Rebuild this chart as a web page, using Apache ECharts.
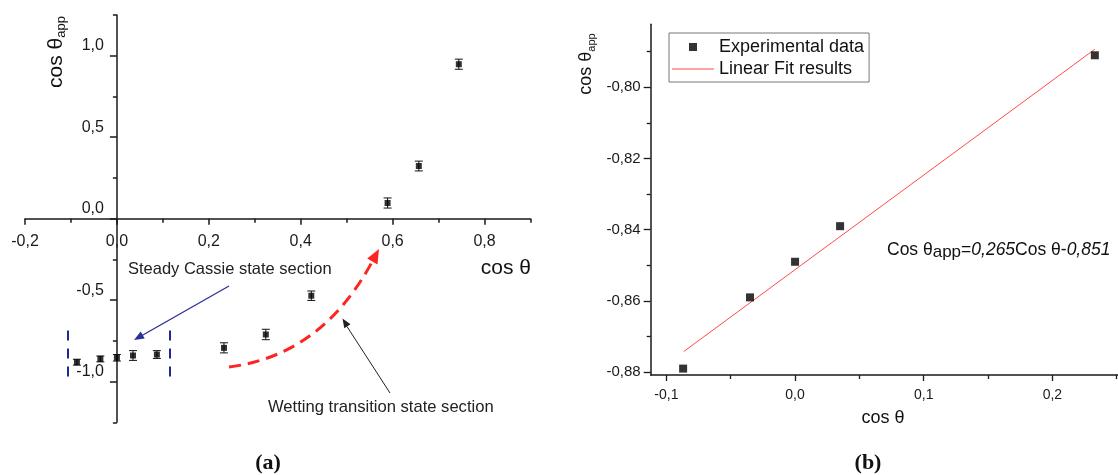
<!DOCTYPE html>
<html>
<head>
<meta charset="utf-8">
<script src="https://cdn.jsdelivr.net/npm/echarts@6/dist/echarts.min.js"></script>
<style>
html,body{margin:0;padding:0;background:#fff;}
#c{width:1118px;height:475px;}
</style>
</head>
<body>
<div id="c"></div>
<script>
// ---- Panel (a) data ----
const leftX   = [-0.087, -0.036, 0.0, 0.035, 0.087, 0.233, 0.324, 0.423, 0.589, 0.657, 0.744];
const leftY   = [-0.881, -0.861, -0.854, -0.840, -0.834, -0.793, -0.711, -0.473, 0.096, 0.323, 0.948];
const leftErr = [0.018, 0.018, 0.020, 0.030, 0.024, 0.031, 0.032, 0.029, 0.031, 0.030, 0.031];
// ---- Panel (b) data ----
const rightX = [-0.087, -0.035, 0.0, 0.035, 0.233];
const rightY = [-0.879, -0.859, -0.849, -0.839, -0.791];
const fitX = [-0.0865, 0.233];
const fitY = [-0.8742, -0.7893];
// ---- Tick values ----
const leftXMajor  = [-0.2, 0, 0.2, 0.4, 0.6, 0.8];
const leftXMinor  = [-0.1, 0.1, 0.3, 0.5, 0.7, 0.9];
const leftYMajor  = [-1, -0.5, 0, 0.5, 1];
const leftYMinor  = [-1.25, -0.75, -0.25, 0.25, 0.75, 1.25];
const rightXMajor = [-0.1, 0, 0.1, 0.2];
const rightXMinor = [-0.05, 0.05, 0.15, 0.25];
const rightYMajor = [-0.88, -0.86, -0.84, -0.82, -0.80];
const rightYMinor = [-0.87, -0.85, -0.83, -0.81, -0.79];
// ---- Bracket (Cassie section) in data coordinates ----
const bracketX = [-0.107, 0.116];
const bracketY = [-0.687, -0.975];

const FONT = "'Liberation Sans', Arial, sans-serif";
const AX = '#1a1a1a';
const comma = (v, d) => v.toFixed(d).replace('.', ',');

const leftPts = leftX.map((x, i) => [x, leftY[i]]);
const leftErrPts = leftX.map((x, i) => [x, leftY[i], leftErr[i]]);
const rightPts = rightX.map((x, i) => [x, rightY[i]]);
const fitPts = fitX.map((x, i) => [x, fitY[i]]);

// layout of panel (a); axes cross at the origin
const W = 1118, H = 475;
const LG = {left: 25, right: 587.5, top: 15, bottom: 52.7};
const LXR = [-0.2, 0.9], LYR = [-1.25, 1.25];
const lgW = W - LG.left - LG.right, lgH = H - LG.top - LG.bottom;
const yAxisShift = -((0 - LXR[0]) / (LXR[1] - LXR[0])) * lgW;   // move y axis to x=0
const xAxisShift = -((0 - LYR[0]) / (LYR[1] - LYR[0])) * lgH;   // move x axis to y=0

const chart = echarts.init(document.getElementById('c'), null, {renderer: 'canvas'});

const option = {
  animation: false,
  backgroundColor: '#fff',
  grid: [
    Object.assign({outerBoundsMode: 'none', containLabel: false}, LG),
    {left: 650.7, right: 0, top: 24.3, bottom: 100, outerBoundsMode: 'none', containLabel: false}
  ],
  xAxis: [
    { // left major
      type: 'value', gridIndex: 0, min: LXR[0], max: LXR[1], position: 'bottom', offset: xAxisShift,
      axisLine: {show: true, onZero: false, lineStyle: {color: AX, width: 1.5}},
      axisTick: {show: true, length: 6, lineStyle: {color: AX, width: 1.5}, customValues: leftXMajor},
      axisLabel: {show: true, customValues: leftXMajor, margin: 15, fontSize: 16, color: AX, fontFamily: FONT,
                  formatter: v => comma(v, 1)},
      splitLine: {show: false}
    },
    { // left minor
      type: 'value', gridIndex: 0, min: LXR[0], max: LXR[1], position: 'bottom', offset: xAxisShift,
      axisLine: {show: false, onZero: false},
      axisTick: {show: true, length: 4, lineStyle: {color: AX, width: 1.5}, customValues: leftXMinor},
      axisLabel: {show: false}, splitLine: {show: false}
    },
    { // right major
      type: 'value', gridIndex: 1, min: -0.1122, max: 0.251, position: 'bottom',
      axisLine: {show: true, onZero: false, lineStyle: {color: AX, width: 1.5}},
      axisTick: {show: true, length: 6, lineStyle: {color: AX, width: 1.3}, customValues: rightXMajor},
      axisLabel: {show: true, customValues: rightXMajor, margin: 13, fontSize: 14, color: AX, fontFamily: FONT,
                  formatter: v => comma(v, 1)},
      splitLine: {show: false}
    },
    { // right minor
      type: 'value', gridIndex: 1, min: -0.1122, max: 0.251, position: 'bottom',
      axisLine: {show: false, onZero: false},
      axisTick: {show: true, length: 4, lineStyle: {color: AX, width: 1.3}, customValues: rightXMinor},
      axisLabel: {show: false}, splitLine: {show: false}
    }
  ],
  yAxis: [
    { // left major
      type: 'value', gridIndex: 0, min: LYR[0], max: LYR[1], position: 'left', offset: yAxisShift,
      axisLine: {show: true, onZero: false, lineStyle: {color: AX, width: 1.5}},
      axisTick: {show: true, length: 7, lineStyle: {color: AX, width: 1.5}, customValues: leftYMajor},
      axisLabel: {show: true, customValues: leftYMajor, margin: 13, fontSize: 16, color: AX, fontFamily: FONT,
                  verticalAlign: 'bottom', padding: [0, 0, 2, 0],
                  formatter: v => comma(v, 1)},
      splitLine: {show: false}
    },
    { // left minor
      type: 'value', gridIndex: 0, min: LYR[0], max: LYR[1], position: 'left', offset: yAxisShift,
      axisLine: {show: false, onZero: false},
      axisTick: {show: true, length: 4, lineStyle: {color: AX, width: 1.5}, customValues: leftYMinor},
      axisLabel: {show: false}, splitLine: {show: false}
    },
    { // right major
      type: 'value', gridIndex: 1, min: -0.8808, max: -0.7823, position: 'left',
      axisLine: {show: true, onZero: false, lineStyle: {color: AX, width: 1.5}},
      axisTick: {show: true, length: 7, lineStyle: {color: AX, width: 1.3}, customValues: rightYMajor},
      axisLabel: {show: true, customValues: rightYMajor, margin: 10, fontSize: 15, color: AX, fontFamily: FONT,
                  formatter: v => comma(v, 2)},
      splitLine: {show: false}
    },
    { // right minor
      type: 'value', gridIndex: 1, min: -0.8808, max: -0.7823, position: 'left',
      axisLine: {show: false, onZero: false},
      axisTick: {show: true, length: 4, lineStyle: {color: AX, width: 1.3}, customValues: rightYMinor},
      axisLabel: {show: false}, splitLine: {show: false}
    }
  ],
  legend: {
    orient: 'vertical', left: 669, top: 33,
    data: [
      {name: 'Experimental data', icon: 'path://M0,0H1V1H0Z'},
      {name: 'Linear Fit results', icon: 'path://M0,0H42V1H0Z'}
    ],
    symbolKeepAspect: true,
    itemWidth: 42, itemHeight: 8, itemGap: 4,
    padding: [5, 5, 4, 3],
    borderColor: '#777', borderWidth: 1, backgroundColor: '#fff',
    textStyle: {fontSize: 18, color: '#111', fontFamily: FONT},
    selectedMode: false
  },
  series: [
    {
      name: 'cos_app_a', type: 'scatter', xAxisIndex: 0, yAxisIndex: 0,
      symbol: 'rect', symbolSize: 6, itemStyle: {color: '#000'},
      data: leftPts, z: 5,
      markLine: {
        silent: true, symbol: 'none', animation: false,
        label: {show: false},
        lineStyle: {color: '#1e2896', width: 2, type: [10, 8]},
        data: bracketX.map(x => [{coord: [x, bracketY[0]]}, {coord: [x, bracketY[1]]}])
      }
    },
    {
      name: 'err_a', type: 'custom', xAxisIndex: 0, yAxisIndex: 0,
      data: leftErrPts, encode: {x: 0, y: 1}, z: 4,
      renderItem: function (params, api) {
        const x = api.value(0), y = api.value(1), e = api.value(2);
        const t = api.coord([x, y + e]);
        const b = api.coord([x, y - e]);
        const hw = 4;
        const st = {stroke: '#111', lineWidth: 1};
        return {
          type: 'group',
          children: [
            {type: 'line', shape: {x1: t[0], y1: t[1], x2: b[0], y2: b[1]}, style: st},
            {type: 'line', shape: {x1: t[0] - hw, y1: t[1], x2: t[0] + hw, y2: t[1]}, style: st},
            {type: 'line', shape: {x1: b[0] - hw, y1: b[1], x2: b[0] + hw, y2: b[1]}, style: st}
          ]
        };
      }
    },
    {
      name: 'Experimental data', type: 'scatter', xAxisIndex: 2, yAxisIndex: 2,
      symbol: 'rect', symbolSize: 8, itemStyle: {color: '#000'},
      data: rightPts, z: 5
    },
    {
      name: 'Linear Fit results', type: 'line', xAxisIndex: 2, yAxisIndex: 2,
      symbol: 'none', showSymbol: false,
      lineStyle: {color: '#ff4a4a', width: 1}, itemStyle: {color: '#ff4a4a'},
      data: fitPts, z: 3
    }
  ],
  graphic: [
    // left y-axis name
    {type: 'text', x: 56, y: 52, rotation: Math.PI / 2,
     style: {text: '{a|cos θ}{b|app}', align: 'center', verticalAlign: 'middle',
             rich: {a: {fontSize: 21, fontFamily: FONT, fill: '#111', lineHeight: 24},
                    b: {fontSize: 13, fontFamily: FONT, fill: '#111', lineHeight: 10, verticalAlign: 'bottom'}}}},
    // left x-axis name
    {type: 'text', x: 531, y: 268,
     style: {text: 'cos θ', align: 'right', verticalAlign: 'middle', fontSize: 21, fontFamily: FONT, fill: '#111'}},
    // Steady Cassie label
    {type: 'text', x: 128, y: 269,
     style: {text: 'Steady Cassie state section', align: 'left', verticalAlign: 'middle', fontSize: 16.5, fontFamily: FONT, fill: '#222'}},
    // blue arrow
    {type: 'line', shape: {x1: 229, y1: 286, x2: 142, y2: 335.5}, style: {stroke: '#2b2f96', lineWidth: 1.3}},
    {type: 'polygon', shape: {points: [[134, 340], [144.7, 338.6], [140.7, 331.6]]}, style: {fill: '#2b2f96'}},
    // red dashed curve
    {type: 'bezierCurve', shape: {x1: 229, y1: 367, x2: 372, y2: 262, cpx1: 321.5, cpy1: 355.5},
     style: {stroke: '#ff2424', lineWidth: 3, lineDash: [12, 7], fill: null}},
    {type: 'polygon', shape: {points: [[379, 249], [377.5, 264.5], [367.2, 258.6]]}, style: {fill: '#ff2424'}},
    // black arrow
    {type: 'line', shape: {x1: 390, y1: 393, x2: 347, y2: 326.5}, style: {stroke: '#222', lineWidth: 1}},
    {type: 'polygon', shape: {points: [[342.5, 318.5], [350.5, 324.3], [344.3, 328.3]]}, style: {fill: '#222'}},
    // Wetting label
    {type: 'text', x: 268, y: 407,
     style: {text: 'Wetting transition state section', align: 'left', verticalAlign: 'middle', fontSize: 16.6, fontFamily: FONT, fill: '#222'}},
    // (a)
    {type: 'text', x: 268, y: 463,
     style: {text: '(a)', align: 'center', verticalAlign: 'middle', fontSize: 22, fontWeight: 'bold', fontFamily: "'Liberation Serif', 'DejaVu Serif', serif", fill: '#111'}},
    // right y-axis name
    {type: 'text', x: 586, y: 64, rotation: Math.PI / 2,
     style: {text: '{a|cos θ}{b|app}', align: 'center', verticalAlign: 'middle',
             rich: {a: {fontSize: 18, fontFamily: FONT, fill: '#111', lineHeight: 22},
                    b: {fontSize: 11, fontFamily: FONT, fill: '#111', lineHeight: 9, verticalAlign: 'bottom'}}}},
    // right x-axis name
    {type: 'text', x: 883, y: 418,
     style: {text: 'cos θ', align: 'center', verticalAlign: 'middle', fontSize: 18, fontFamily: FONT, fill: '#111'}},
    // equation
    {type: 'text', x: 887, y: 250,
     style: {text: '{n|Cos θ}{s|app}{n|=}{i|0,265}{n|Cos θ-}{i|0,851}', align: 'left', verticalAlign: 'middle',
             rich: {n: {fontSize: 17.5, fontFamily: FONT, fill: '#111', lineHeight: 22},
                    i: {fontSize: 17.5, fontFamily: FONT, fontStyle: 'italic', fill: '#111', lineHeight: 22},
                    s: {fontSize: 17, fontFamily: FONT, fill: '#111', lineHeight: 10, verticalAlign: 'bottom'}}}},
    // (b)
    {type: 'text', x: 868, y: 463,
     style: {text: '(b)', align: 'center', verticalAlign: 'middle', fontSize: 22, fontWeight: 'bold', fontFamily: "'Liberation Serif', 'DejaVu Serif', serif", fill: '#111'}}
  ]
};
chart.setOption(option);
</script>
</body>
</html>
